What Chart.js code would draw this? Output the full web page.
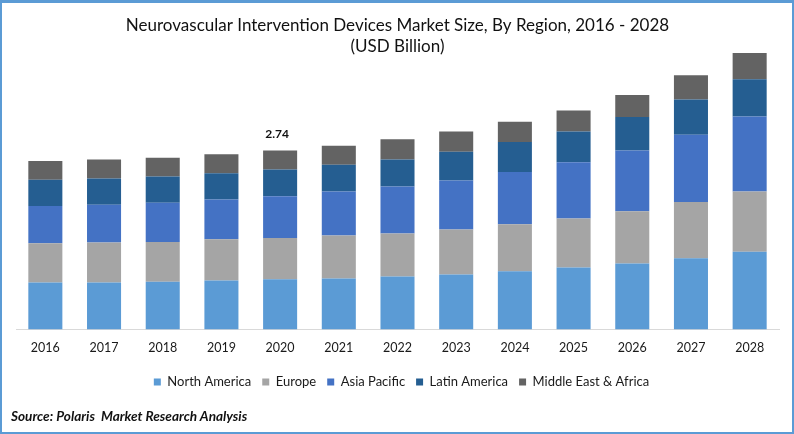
<!DOCTYPE html>
<html>
<head>
<meta charset="utf-8">
<title>Neurovascular Intervention Devices Market Size</title>
<script src="https://cdn.jsdelivr.net/npm/chart.js@4"></script>
<style>
  html, body { margin: 0; padding: 0; background: #fff; }
  #wrap { position: relative; width: 794px; height: 434px; overflow: hidden; }
  #frame {
    position: absolute; left: 0; top: 0; right: 0; bottom: 0;
    border: 2px solid #5b9bd5; border-top-width: 3px; pointer-events: none;
  }
  #source {
    position: absolute; left: 11px; top: 408px;
    font: italic bold 13.6px Lato, sans-serif; color: #111;
  }
  canvas { display: block; }
</style>
</head>
<body>
<div id="wrap">
  <canvas id="market-chart" width="794" height="434"></canvas>
  <div id="frame"></div>
  <div id="source">Source: Polaris&nbsp; Market Research Analysis</div>
</div>
<script>
const years = ["2016", "2017", "2018", "2019", "2020", "2021", "2022", "2023", "2024", "2025", "2026", "2027", "2028"];
const northAmerica = [0.72, 0.72, 0.73, 0.75, 0.77, 0.78, 0.81, 0.84, 0.89, 0.95, 1.01, 1.09, 1.19];
const europe = [0.60, 0.61, 0.61, 0.63, 0.63, 0.66, 0.66, 0.69, 0.72, 0.75, 0.80, 0.86, 0.92];
const asiaPacific = [0.57, 0.58, 0.60, 0.61, 0.64, 0.67, 0.72, 0.75, 0.80, 0.86, 0.93, 1.03, 1.15];
const latinAmerica = [0.40, 0.40, 0.40, 0.40, 0.41, 0.41, 0.41, 0.44, 0.46, 0.47, 0.51, 0.54, 0.57];
const middleEast = [0.29, 0.29, 0.29, 0.29, 0.29, 0.29, 0.31, 0.31, 0.31, 0.32, 0.34, 0.37, 0.40];
const labelledYear = "2020";
const labelledTotal = "2.74";

const makeSeries = (label, data, color) => ({
  label,
  data,
  backgroundColor: color,
  borderWidth: 0,
  barPercentage: 0.58,
  categoryPercentage: 1,
});

// only one total is printed in the reference, above the 2020 bar
const totalLabel = {
  id: "totalLabel",
  afterDatasetsDraw(chart) {
    const ctx = chart.ctx;
    const meta = chart.getDatasetMeta(chart.data.datasets.length - 1);
    const bar = meta.data[years.indexOf(labelledYear)];
    ctx.save();
    ctx.font = "bold 12px Lato, sans-serif";
    ctx.fillStyle = "#111";
    ctx.textAlign = "center";
    ctx.textBaseline = "middle";
    ctx.fillText(labelledTotal, bar.x - 3, bar.y - 16);
    ctx.restore();
  },
};

// the legend sits a little right of the canvas centre and close to the year labels
const legendNudge = {
  id: "legendNudge",
  afterLayout(chart) {
    chart.legend.left += 4;
    chart.legend.right += 4;
    chart.legend.top -= 2;
    chart.legend.bottom -= 2;
  },
};

new Chart(document.getElementById("market-chart"), {
  type: "bar",
  data: {
    labels: years,
    datasets: [
      makeSeries("North America", northAmerica, "#5b9bd5"),
      makeSeries("Europe", europe, "#a5a5a5"),
      makeSeries("Asia Pacific", asiaPacific, "#4472c4"),
      makeSeries("Latin America", latinAmerica, "#255e91"),
      makeSeries("Middle East & Africa", middleEast, "#636363"),
    ],
  },
  options: {
    responsive: false,
    devicePixelRatio: 1,
    animation: false,
    layout: { padding: { left: 16, right: 15, top: 0, bottom: 33.5 } },
    scales: {
      x: {
        stacked: true,
        grid: { display: false, drawTicks: false },
        border: { color: "#d9d9d9", width: 1 },
        ticks: { color: "#1a1a1a", font: { family: "Lato", size: 12.5 }, padding: 11, maxRotation: 0, autoSkip: false },
      },
      y: { stacked: true, display: false, min: 0, max: 4.3 },
    },
    plugins: {
      title: {
        display: true,
        text: ["Neurovascular Intervention Devices Market Size, By Region, 2016 - 2028", "(USD Billion)"],
        color: "#111",
        font: { family: "Lato", size: 17, weight: "normal", lineHeight: 1.25 },
        padding: { top: 15, bottom: -9 },
      },
      legend: {
        position: "bottom",
        labels: {
          color: "#1a1a1a",
          font: { family: "Lato", size: 13 },
          boxWidth: 7,
          boxHeight: 7,
          padding: 11,
        },
      },
      tooltip: { enabled: false },
    },
  },
  plugins: [totalLabel, legendNudge],
});
</script>
</body>
</html>
